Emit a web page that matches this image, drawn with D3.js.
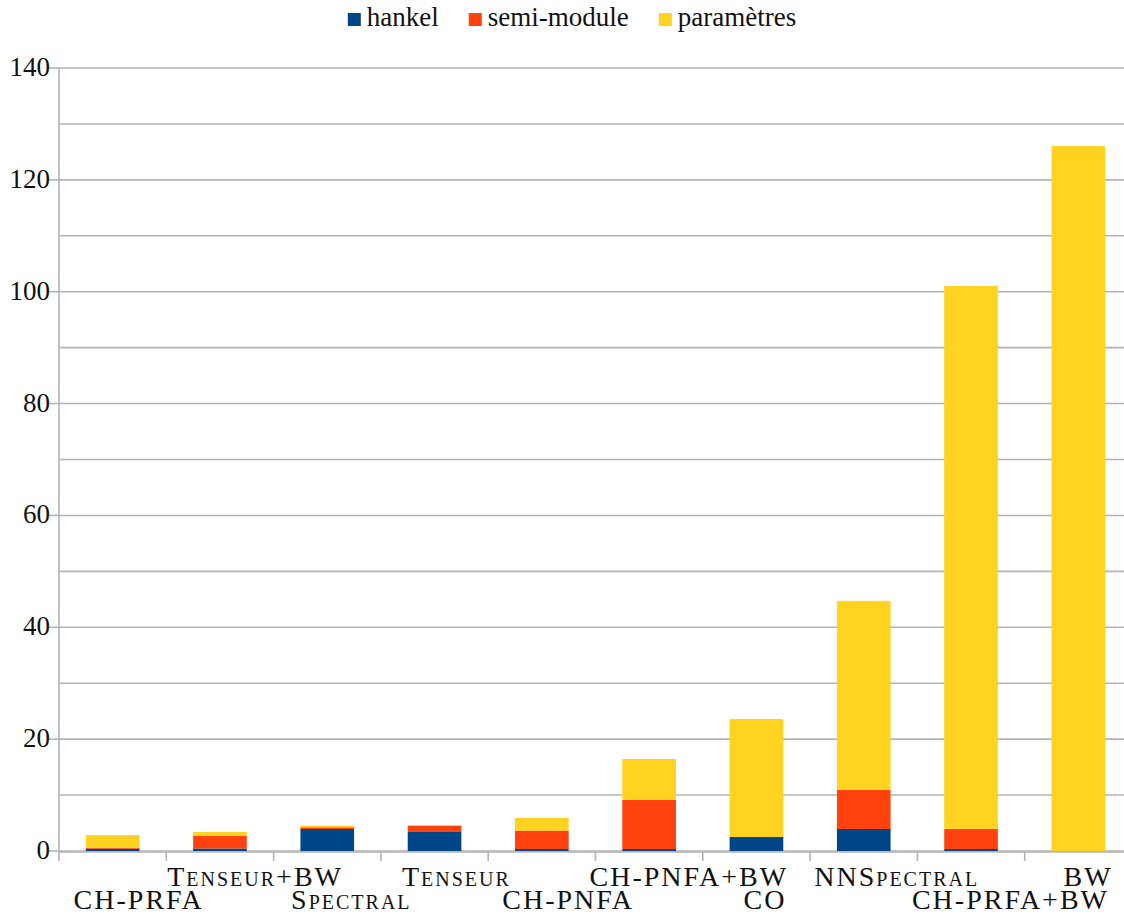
<!DOCTYPE html>
<html>
<head>
<meta charset="utf-8">
<script src="https://cdn.jsdelivr.net/npm/d3@7"></script>
<style>
  body { margin: 0; background: #fff; }
</style>
</head>
<body>
<div id="chart"></div>
<script>
(function () {
  'use strict';

  var WIDTH = 1124;
  var HEIGHT = 915;
  var MARGIN = { top: 68, right: -8, bottom: 64, left: 59 };
  var FONT = 27;
  var FAMILY = '"Liberation Serif", "DejaVu Serif", serif';

  var categories = ['CH-PRFA', 'Tenseur+BW', 'Spectral', 'Tenseur', 'CH-PNFA',
    'CH-PNFA+BW', 'CO', 'NNSpectral', 'CH-PRFA+BW', 'BW'];
  var hankel = [0.4, 0.45, 3.93, 3.4, 0.35, 0.35, 2.5, 3.93, 0.35, 0];
  var semiModule = [0.15, 2.25, 0.3, 1.07, 3.3, 8.8, 0, 7.0, 3.6, 0];
  var parametres = [2.3, 0.7, 0.3, 0.18, 2.27, 7.3, 21.1, 33.8, 97.1, 126.05];
  var seriesNames = ['hankel', 'semi-module', 'paramètres'];
  var seriesColors = ['#004586', '#ff420e', '#ffd320'];
  var yTicks = [0, 20, 40, 60, 80, 100, 120, 140];
  var yGrid = d3.range(0, 141, 10);

  var svg = d3.select('#chart').append('svg')
    .attr('width', WIDTH)
    .attr('height', HEIGHT);

  var width = WIDTH - MARGIN.left - MARGIN.right;
  var height = HEIGHT - MARGIN.top - MARGIN.bottom;

  var x = d3.scaleBand()
    .domain(categories)
    .range([MARGIN.left, MARGIN.left + width])
    .paddingInner(0.5)
    .paddingOuter(0.25);

  var y = d3.scaleLinear()
    .domain([0, 140])
    .range([MARGIN.top + height, MARGIN.top]);

  //grid
  svg.append('g').attr('class', 'grid')
    .selectAll('line')
    .data(yGrid)
    .enter().append('line')
    .attr('x1', MARGIN.left)
    .attr('x2', WIDTH)
    .attr('y1', function (d) { return y(d); })
    .attr('y2', function (d) { return y(d); })
    .attr('stroke', '#b3b3b3')
    .attr('stroke-width', 1.6);

  //y axis
  var yAxis = svg.append('g').attr('class', 'y axis');
  yAxis.append('line')
    .attr('x1', MARGIN.left).attr('x2', MARGIN.left)
    .attr('y1', y(140)).attr('y2', y(0))
    .attr('stroke', '#b3b3b3').attr('stroke-width', 1.6);
  var yt = yAxis.selectAll('g.tick')
    .data(yTicks)
    .enter().append('g')
    .attr('class', 'tick');
  yt.append('line')
    .attr('x1', MARGIN.left - 10).attr('x2', MARGIN.left)
    .attr('y1', function (d) { return y(d); })
    .attr('y2', function (d) { return y(d); })
    .attr('stroke', '#b3b3b3').attr('stroke-width', 1.6);
  yt.append('text')
    .attr('x', MARGIN.left - 9)
    .attr('y', function (d) { return y(d) + 8; })
    .attr('text-anchor', 'end')
    .attr('font-family', FAMILY)
    .attr('font-size', FONT)
    .attr('fill', '#111')
    .text(function (d) { return d; });

  //x axis
  var xAxis = svg.append('g').attr('class', 'x axis');
  xAxis.append('line')
    .attr('x1', MARGIN.left).attr('x2', WIDTH)
    .attr('y1', y(0) + 1).attr('y2', y(0) + 1)
    .attr('stroke', '#b3b3b3').attr('stroke-width', 1.6);
  var step = x.step();
  xAxis.selectAll('line.tick')
    .data(categories)
    .enter().append('line')
    .attr('class', 'tick')
    .attr('x1', function (d) { return x(d) - step * 0.25; })
    .attr('x2', function (d) { return x(d) - step * 0.25; })
    .attr('y1', y(0)).attr('y2', y(0) + 10)
    .attr('stroke', '#b3b3b3').attr('stroke-width', 1.6);

  // labels alternate on two rows, shifted right like the original
  xAxis.selectAll('text')
    .data(categories)
    .enter().append('text')
    .attr('y', function (d, i) { return y(0) + (i % 2 === 0 ? 58 : 35); })
    .attr('text-anchor', 'middle')
    .attr('font-family', FAMILY)
    .attr('font-size', 28)
    .attr('letter-spacing', 2)
    .style('font-variant', 'small-caps')
    .attr('fill', '#111')
    .text(function (d) { return d; })
    .attr('x', function (d) {
      var w = this.getComputedTextLength();
      return x(d) + x.bandwidth() / 2 + 0.2 * w;
    });

  //stacked bars
  var table = categories.map(function (c, i) {
    return { cat: c, hankel: hankel[i], semi: semiModule[i], param: parametres[i] };
  });
  var stack = d3.stack().keys(['hankel', 'semi', 'param']);
  var layers = stack(table);

  svg.append('g').attr('class', 'bars')
    .selectAll('g')
    .data(layers)
    .enter().append('g')
    .attr('fill', function (d, i) { return seriesColors[i]; })
    .selectAll('rect')
    .data(function (d) { return d; })
    .enter().append('rect')
    .attr('x', function (d) { return x(d.data.cat); })
    .attr('width', x.bandwidth())
    .attr('y', function (d) { return y(d[1]); })
    .attr('height', function (d) { return y(d[0]) - y(d[1]); });

  //legend
  var legend = svg.append('g').attr('class', 'legend');
  var cursor = 0;
  seriesNames.forEach(function (name, i) {
    var item = legend.append('g').attr('transform', 'translate(' + cursor + ',0)');
    item.append('rect')
      .attr('x', 0).attr('y', 13)
      .attr('width', 13).attr('height', 13)
      .attr('fill', seriesColors[i]);
    var t = item.append('text')
      .attr('x', 19).attr('y', 26)
      .attr('font-family', FAMILY)
      .attr('font-size', FONT)
      .attr('fill', '#111')
      .text(name);
    cursor += 19 + t.node().getComputedTextLength() + 30;
  });
  var legendWidth = cursor - 30;
  legend.attr('transform', 'translate(' + (572 - legendWidth / 2) + ',0)');
})();
</script>
</body>
</html>
